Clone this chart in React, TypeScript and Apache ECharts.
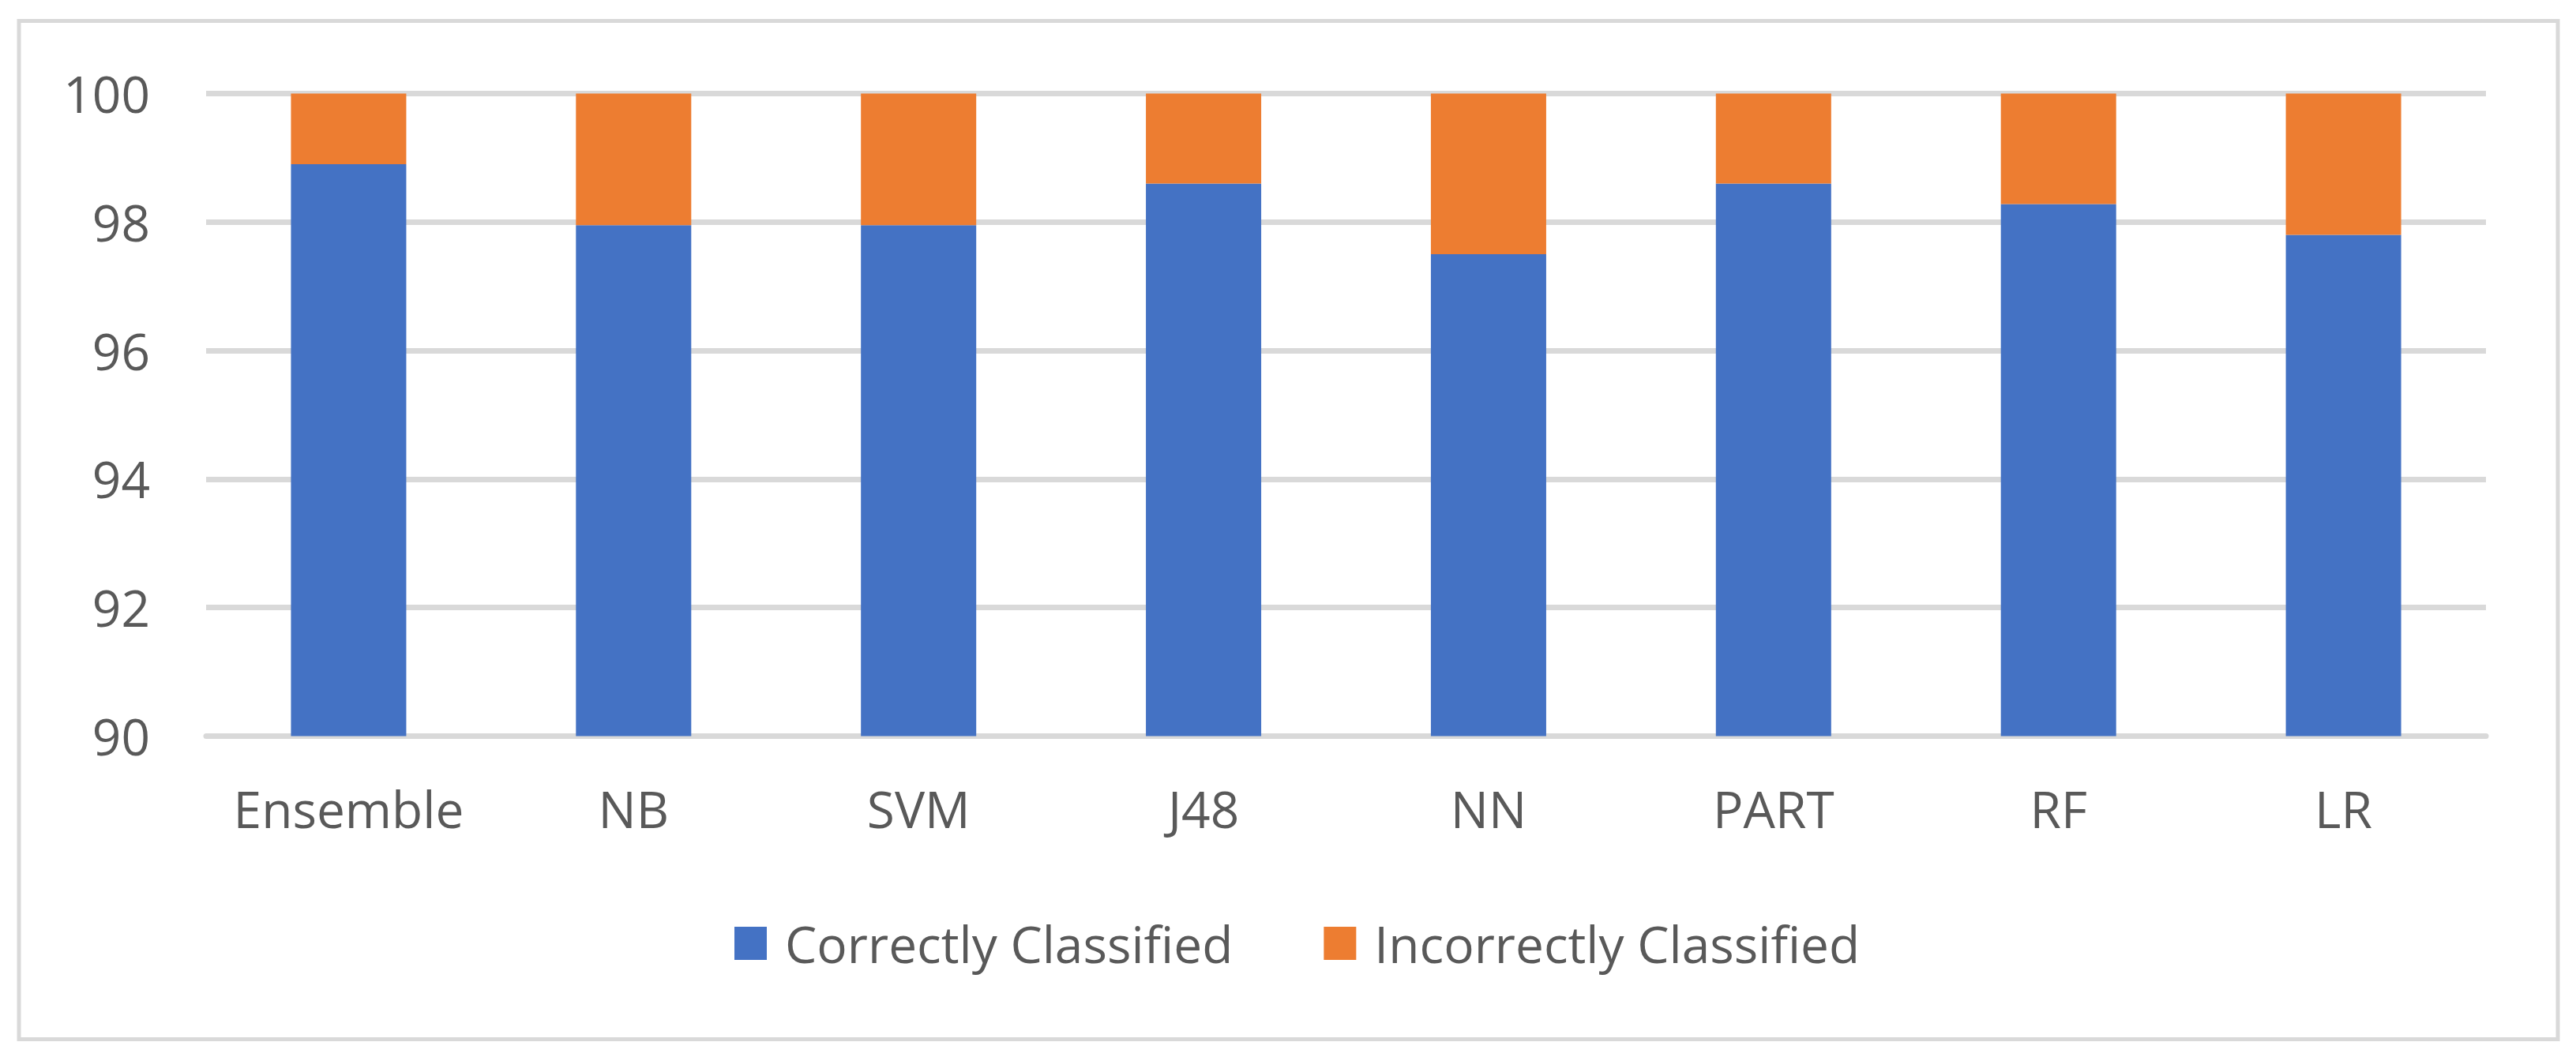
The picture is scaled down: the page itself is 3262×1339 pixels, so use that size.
import React, { useEffect, useRef } from "react";
import * as echarts from "echarts";

const categories = ["Ensemble", "NB", "SVM", "J48", "NN", "PART", "RF", "LR"];
const correctlyClassified = [98.9, 97.95, 97.95, 98.6, 97.5, 98.6, 98.28, 97.8];
const incorrectlyClassified = [1.1, 2.05, 2.05, 1.4, 2.5, 1.4, 1.72, 2.2];
const seriesNames = ["Correctly Classified", "Incorrectly Classified"];
const yTicks = { min: 90, max: 100, interval: 2 };

const FONT = "'Open Sans', sans-serif";
const TEXT = "#595959";
const GRID = "#d9d9d9";

export default function App() {
  const ref = useRef<HTMLDivElement>(null);
  useEffect(() => {
    if (!ref.current) return;
    const chart = echarts.init(ref.current, undefined, { renderer: "svg" });
    chart.setOption({
      animation: false,
      backgroundColor: "#ffffff",
      graphic: [
        {
          type: "rect",
          shape: { x: 24, y: 26.5, width: 3215, height: 1290 },
          style: { fill: "none", stroke: GRID, lineWidth: 5 },
          silent: true,
        },
      ],
      grid: { left: 261, right: 114, top: 118.5, bottom: 406.5, containLabel: false },
      legend: {
        left: 925,
        top: 1158,
        itemWidth: 41,
        itemHeight: 42,
        itemGap: 115,
        icon: "rect",
        textStyle: { fontFamily: FONT, fontSize: 64, color: TEXT, padding: [0, 0, 0, 18] },
        data: seriesNames,
      },
      xAxis: {
        type: "category",
        data: categories,
        axisLine: { show: true, lineStyle: { color: GRID, width: 7 } },
        axisTick: { show: false },
        axisLabel: { fontFamily: FONT, fontSize: 64, color: TEXT, margin: 60, interval: 0 },
      },
      yAxis: {
        type: "value",
        min: yTicks.min,
        max: yTicks.max,
        interval: yTicks.interval,
        axisLine: { show: false },
        axisTick: { show: false },
        splitLine: { show: true, lineStyle: { color: GRID, width: 7 } },
        axisLabel: { fontFamily: FONT, fontSize: 64, color: TEXT, margin: 71 },
      },
      series: [
        {
          name: seriesNames[0],
          type: "bar",
          stack: "total",
          barWidth: 146,
          itemStyle: { color: "#4472c4" },
          data: correctlyClassified,
        },
        {
          name: seriesNames[1],
          type: "bar",
          stack: "total",
          barWidth: 146,
          itemStyle: { color: "#ed7d31" },
          data: incorrectlyClassified,
        },
      ],
    });
    return () => chart.dispose();
  }, []);
  return (
    <div
      ref={ref}
      style={{ position: "absolute", left: 0, top: 0, width: 3262, height: 1339, background: "#fff" }}
    />
  );
}
